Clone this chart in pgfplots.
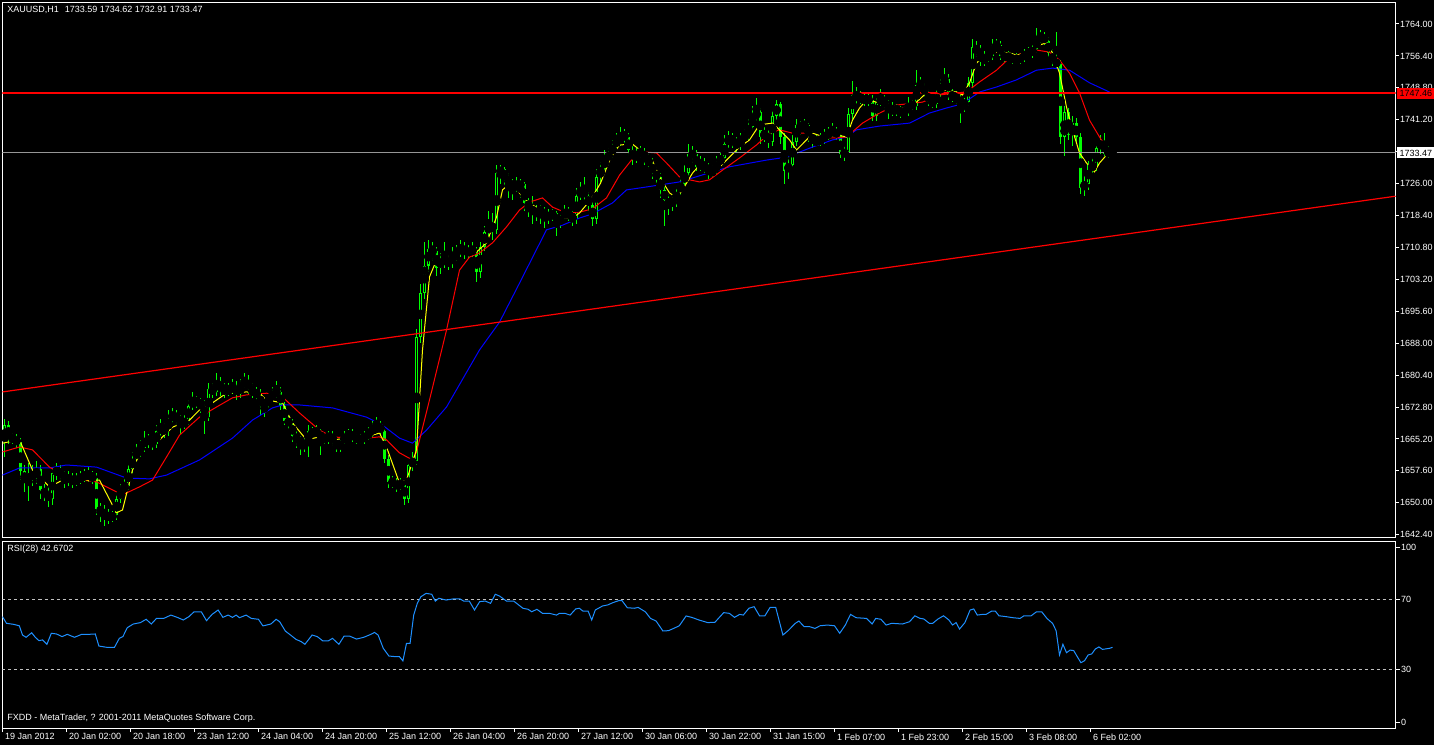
\documentclass[border=0pt]{standalone}
\usepackage{fontspec}
\setmainfont{Liberation Sans}
\usepackage{pgfplots}
\usepackage{pgfplotstable}
\pgfplotsset{compat=1.18}
\definecolor{mtlime}{RGB}{0,255,0}
\definecolor{mtyellow}{RGB}{255,255,0}
\definecolor{mtred}{RGB}{255,0,0}
\definecolor{mtblue}{RGB}{0,0,255}
\definecolor{rsiblue}{RGB}{30,144,255}
\definecolor{bidgray}{RGB}{150,150,150}
\definecolor{lvlgray}{RGB}{192,192,192}
\newcommand\mtfont{\fontsize{4.5pt}{5.4pt}\selectfont}

\pgfplotstableread{
i o h l c
0 1664.5 1670.0 1661.0 1668.5
1 1668.5 1669.5 1664.0 1665.5
2 1665.5 1667.0 1664.0 1665.0
3 1665.0 1666.5 1663.0 1664.5
4 1664.5 1665.5 1655.5 1657.5
5 1657.5 1659.0 1652.5 1655.0
6 1655.0 1659.5 1650.5 1657.0
7 1657.0 1659.0 1654.0 1656.0
8 1656.0 1660.0 1654.5 1658.0
9 1658.0 1659.0 1651.0 1653.0
10 1653.0 1654.5 1650.5 1652.0
11 1652.0 1654.0 1649.0 1651.0
12 1651.0 1658.5 1649.5 1657.0
13 1657.0 1659.5 1655.5 1658.0
14 1658.0 1659.0 1655.0 1656.5
15 1656.5 1657.5 1653.5 1655.5
16 1655.5 1657.5 1654.0 1656.0
17 1656.0 1657.0 1653.5 1655.0
18 1655.0 1657.0 1654.0 1655.5
19 1655.5 1657.5 1654.5 1656.0
20 1656.0 1658.0 1655.0 1656.5
21 1656.5 1658.5 1655.0 1656.5
22 1656.5 1657.5 1654.5 1656.0
23 1656.0 1657.0 1647.0 1648.5
24 1648.5 1650.0 1645.5 1648.0
25 1648.0 1649.5 1644.5 1647.0
26 1647.0 1648.5 1645.0 1646.5
27 1646.5 1648.0 1645.5 1647.0
28 1647.0 1652.5 1646.0 1651.0
29 1651.0 1654.5 1650.0 1653.0
30 1653.0 1656.0 1652.0 1654.0
31 1654.0 1659.5 1653.0 1658.0
32 1658.0 1662.0 1657.0 1660.5
33 1660.5 1664.0 1659.5 1662.5
34 1662.5 1665.0 1661.0 1663.0
35 1663.0 1667.0 1662.0 1665.5
36 1665.5 1666.5 1663.0 1664.5
37 1664.5 1666.0 1662.5 1664.0
38 1664.0 1668.5 1663.0 1667.0
39 1667.0 1670.0 1666.0 1668.0
40 1668.0 1669.0 1665.5 1667.0
41 1667.0 1672.0 1666.0 1670.0
42 1670.0 1672.5 1669.0 1671.0
43 1671.0 1672.0 1668.5 1670.0
44 1670.0 1671.0 1666.5 1668.5
45 1668.5 1671.0 1667.5 1669.5
46 1669.5 1674.5 1668.5 1673.0
47 1673.0 1676.5 1672.0 1674.5
48 1674.5 1675.5 1672.5 1674.0
49 1674.0 1675.0 1671.5 1673.5
50 1673.5 1674.5 1666.5 1670.5
51 1670.5 1678.5 1669.5 1677.0
52 1677.0 1678.5 1675.0 1676.5
53 1676.5 1681.0 1675.5 1679.0
54 1679.0 1680.0 1675.5 1677.0
55 1677.0 1678.5 1675.0 1676.5
56 1676.5 1678.5 1675.5 1677.0
57 1677.0 1679.5 1676.0 1677.5
58 1677.5 1679.0 1674.5 1676.0
59 1676.0 1679.5 1675.0 1678.0
60 1678.0 1681.0 1677.0 1679.0
61 1679.0 1680.5 1676.0 1677.0
62 1677.0 1678.5 1675.0 1676.0
63 1676.0 1677.5 1674.5 1676.0
64 1676.0 1677.0 1671.0 1673.0
65 1673.0 1674.5 1670.5 1673.5
66 1673.5 1676.0 1672.5 1675.0
67 1675.0 1677.5 1674.0 1676.0
68 1676.0 1679.0 1675.0 1676.5
69 1676.5 1677.5 1672.0 1673.0
70 1673.0 1674.0 1668.5 1669.5
71 1669.5 1671.0 1667.5 1669.0
72 1669.0 1670.0 1664.5 1666.0
73 1666.0 1667.5 1663.0 1665.0
74 1665.0 1666.0 1661.5 1663.5
75 1663.5 1665.5 1662.0 1664.5
76 1664.5 1668.5 1661.0 1667.0
77 1667.0 1668.0 1665.5 1666.5
78 1666.5 1668.5 1665.5 1667.0
79 1667.0 1667.5 1661.5 1665.0
80 1665.0 1666.5 1664.0 1665.5
81 1665.5 1667.0 1664.0 1666.0
82 1666.0 1667.0 1663.5 1665.0
83 1665.0 1665.5 1662.0 1663.0
84 1663.0 1665.5 1662.0 1664.5
85 1664.5 1667.0 1663.5 1666.0
86 1666.0 1667.5 1665.0 1666.5
87 1666.5 1667.5 1664.5 1665.5
88 1665.5 1666.5 1664.0 1665.0
89 1665.0 1666.5 1664.0 1665.0
90 1665.0 1667.0 1664.0 1666.0
91 1666.0 1668.0 1665.0 1666.5
92 1666.5 1669.5 1665.5 1668.0
93 1668.0 1670.5 1667.0 1668.5
94 1668.5 1669.5 1666.0 1667.0
95 1667.0 1668.0 1659.5 1660.5
96 1660.5 1661.5 1653.5 1655.0
97 1655.0 1656.5 1653.5 1654.5
98 1654.5 1656.0 1652.5 1654.0
99 1654.0 1656.0 1653.0 1654.5
100 1654.5 1655.5 1649.5 1651.0
101 1651.0 1660.0 1650.0 1659.0
102 1659.0 1662.0 1657.5 1660.0
103 1660.0 1691.5 1659.0 1689.5
104 1689.5 1702.0 1688.0 1700.0
105 1700.0 1712.0 1698.5 1706.5
106 1706.5 1712.5 1705.0 1710.5
107 1710.5 1712.0 1707.5 1710.0
108 1710.0 1711.0 1704.0 1706.0
109 1706.0 1709.5 1704.5 1708.0
110 1708.0 1712.0 1706.0 1707.5
111 1707.5 1709.0 1705.5 1707.0
112 1707.0 1711.0 1706.0 1709.0
113 1709.0 1711.5 1707.5 1710.0
114 1710.0 1712.5 1708.5 1711.0
115 1711.0 1712.0 1708.0 1709.5
116 1709.5 1711.5 1708.0 1710.0
117 1710.0 1712.0 1708.5 1710.0
118 1710.0 1711.0 1702.5 1705.0
119 1705.0 1712.0 1703.5 1711.0
120 1711.0 1716.0 1710.0 1714.5
121 1714.5 1719.5 1713.5 1716.0
122 1716.0 1719.0 1712.5 1715.0
123 1715.0 1730.5 1714.0 1728.5
124 1728.5 1730.5 1726.0 1729.5
125 1729.5 1730.0 1725.5 1727.0
126 1727.0 1728.5 1722.5 1726.0
127 1726.0 1727.0 1722.0 1725.5
128 1725.5 1727.5 1724.0 1725.5
129 1725.5 1727.0 1722.5 1726.0
130 1726.0 1726.5 1719.5 1721.5
131 1721.5 1722.5 1718.0 1720.5
132 1720.5 1723.0 1716.5 1718.5
133 1718.5 1721.0 1717.0 1720.0
134 1720.0 1721.0 1716.5 1719.5
135 1719.5 1720.5 1715.5 1718.0
136 1718.0 1720.0 1716.5 1718.5
137 1718.5 1720.0 1717.0 1719.0
138 1719.0 1719.5 1713.5 1716.5
139 1716.5 1719.0 1715.5 1718.0
140 1718.0 1721.0 1717.0 1719.5
141 1719.5 1720.5 1717.0 1718.5
142 1718.5 1719.5 1716.0 1717.5
143 1717.5 1725.0 1716.5 1723.0
144 1723.0 1726.5 1722.0 1724.5
145 1724.5 1727.5 1722.0 1723.0
146 1723.0 1724.0 1719.5 1721.0
147 1721.0 1722.0 1716.0 1717.5
148 1717.5 1729.5 1716.5 1727.5
149 1727.5 1731.5 1726.5 1729.5
150 1729.5 1734.0 1728.5 1732.0
151 1732.0 1734.5 1730.5 1733.0
152 1733.0 1736.5 1732.0 1735.0
153 1735.0 1738.0 1734.0 1736.5
154 1736.5 1739.5 1735.0 1738.0
155 1738.0 1739.0 1735.5 1737.0
156 1737.0 1738.0 1732.5 1734.0
157 1734.0 1735.0 1730.5 1732.0
158 1732.0 1734.5 1731.0 1733.0
159 1733.0 1735.0 1732.0 1733.5
160 1733.5 1734.5 1730.5 1732.0
161 1732.0 1733.0 1729.5 1731.0
162 1731.0 1732.0 1727.0 1728.5
163 1728.5 1730.0 1726.0 1727.5
164 1727.5 1728.5 1722.5 1724.5
165 1724.5 1725.5 1716.0 1722.0
166 1722.0 1723.5 1718.5 1721.0
167 1721.0 1723.5 1719.5 1722.0
168 1722.0 1725.5 1720.5 1724.0
169 1724.0 1727.5 1723.0 1726.0
170 1726.0 1730.5 1725.0 1728.5
171 1728.5 1735.5 1727.5 1733.0
172 1733.0 1735.0 1731.0 1733.0
173 1733.0 1734.0 1729.0 1730.0
174 1730.0 1732.5 1729.0 1730.5
175 1730.5 1732.0 1728.5 1730.0
176 1730.0 1731.0 1727.0 1728.5
177 1728.5 1730.5 1727.5 1729.0
178 1729.0 1732.5 1728.0 1731.0
179 1731.0 1733.5 1730.0 1732.0
180 1732.0 1737.5 1731.0 1735.5
181 1735.5 1738.5 1734.5 1737.0
182 1737.0 1738.0 1734.5 1736.0
183 1736.0 1737.0 1733.5 1735.0
184 1735.0 1738.0 1734.0 1736.5
185 1736.5 1739.0 1735.5 1737.5
186 1737.5 1741.5 1736.5 1739.5
187 1739.5 1744.5 1738.5 1742.0
188 1742.0 1746.5 1741.0 1743.0
189 1743.0 1744.0 1735.5 1737.0
190 1737.0 1739.5 1736.0 1738.0
191 1738.0 1739.0 1734.5 1736.0
192 1736.0 1743.5 1735.0 1742.0
193 1742.0 1746.0 1741.0 1745.0
194 1745.0 1745.5 1735.5 1737.0
195 1737.0 1738.0 1726.0 1729.0
196 1729.0 1732.5 1727.0 1730.5
197 1730.5 1737.5 1729.5 1736.0
198 1736.0 1741.5 1735.0 1740.0
199 1740.0 1741.0 1737.5 1739.5
200 1739.5 1741.5 1738.5 1740.0
201 1740.0 1740.5 1736.0 1737.5
202 1737.5 1738.5 1734.5 1736.0
203 1736.0 1737.5 1735.0 1736.0
204 1736.0 1738.0 1735.0 1736.5
205 1736.5 1739.0 1735.5 1737.5
206 1737.5 1739.5 1736.5 1738.0
207 1738.0 1740.5 1737.0 1738.5
208 1738.5 1739.5 1736.5 1737.5
209 1737.5 1738.0 1732.0 1733.0
210 1733.0 1735.0 1731.5 1733.5
211 1733.5 1744.0 1733.0 1742.5
212 1742.5 1750.5 1741.5 1747.0
213 1747.0 1749.0 1745.0 1746.5
214 1746.5 1748.0 1745.0 1746.0
215 1746.0 1747.5 1744.5 1746.0
216 1746.0 1747.5 1744.5 1746.0
217 1746.0 1747.0 1741.0 1742.0
218 1742.0 1746.5 1741.0 1745.5
219 1745.5 1748.5 1744.5 1746.0
220 1746.0 1747.0 1743.5 1745.0
221 1745.0 1746.0 1741.5 1743.0
222 1743.0 1745.5 1742.0 1744.0
223 1744.0 1745.0 1742.0 1743.5
224 1743.5 1744.5 1741.5 1743.0
225 1743.0 1744.5 1742.0 1743.0
226 1743.0 1746.5 1742.0 1745.0
227 1745.0 1746.0 1743.5 1744.5
228 1744.5 1753.0 1743.5 1749.5
229 1749.5 1751.5 1748.0 1749.0
230 1749.0 1750.0 1746.5 1747.5
231 1747.5 1748.5 1744.5 1745.5
232 1745.5 1746.5 1744.0 1745.0
233 1745.0 1748.5 1744.0 1747.5
234 1747.5 1751.0 1746.5 1749.5
235 1749.5 1753.5 1748.5 1751.0
236 1751.0 1752.0 1746.0 1747.0
237 1747.0 1748.5 1745.5 1746.5
238 1746.5 1748.0 1745.0 1746.0
239 1746.0 1747.0 1740.5 1744.5
240 1744.5 1746.5 1743.0 1745.5
241 1745.5 1751.5 1744.5 1750.0
242 1750.0 1760.5 1749.0 1758.5
243 1758.5 1760.0 1756.0 1757.0
244 1757.0 1759.0 1754.0 1755.0
245 1755.0 1757.5 1754.0 1756.0
246 1756.0 1758.0 1755.0 1756.5
247 1756.5 1760.5 1755.5 1759.0
248 1759.0 1760.5 1757.5 1759.0
249 1759.0 1760.0 1755.5 1756.5
250 1756.5 1757.5 1755.0 1756.0
251 1756.0 1757.5 1755.0 1756.0
252 1756.0 1757.0 1754.5 1755.5
253 1755.5 1757.0 1754.5 1755.5
254 1755.5 1757.0 1754.5 1756.0
255 1756.0 1758.0 1755.0 1757.0
256 1757.0 1758.5 1756.0 1757.0
257 1757.0 1759.0 1756.0 1758.0
258 1758.0 1763.0 1757.0 1760.5
259 1760.5 1762.5 1759.5 1761.0
260 1761.0 1762.0 1759.0 1760.0
261 1760.0 1761.0 1756.0 1757.0
262 1757.0 1758.0 1754.0 1755.0
263 1755.0 1762.0 1753.5 1754.5
264 1754.5 1755.5 1735.5 1737.0
265 1737.0 1744.5 1732.5 1743.0
266 1743.0 1744.0 1736.5 1737.5
267 1737.5 1742.0 1735.0 1740.5
268 1740.5 1741.5 1735.5 1737.0
269 1737.0 1738.0 1723.5 1725.0
270 1725.0 1728.0 1723.0 1726.0
271 1726.0 1731.5 1724.5 1730.5
272 1730.5 1732.0 1728.0 1730.0
273 1730.0 1735.5 1729.0 1734.5
274 1734.5 1737.5 1733.0 1736.0
275 1736.0 1738.0 1732.5 1733.0
276 1733.0 1735.0 1732.0 1733.6
277 1733.59 1734.62 1732.91 1733.47
}\ohlc

\begin{document}
\begin{tikzpicture}[x=1pt,y=1pt]
\useasboundingbox (0,0) rectangle (717,372.5);
\fill[black] (0,0) rectangle (717,372.5);

% ---------------- main price window ----------------
\begin{axis}[
  at={(1.25pt,104pt)}, anchor=south west, scale only axis,
  width=696.5pt, height=267pt,
  xmin=-0.5, xmax=347.75, ymin=1641.86, ymax=1769.0,
  axis line style={white, line width=0.5pt},
  xtick=\empty,
  ytick={1642.4,1650,1657.6,1665.2,1672.8,1680.4,1688,1695.6,1703.2,1710.8,1718.4,1726,1733.6,1741.2,1748.8,1756.4,1764},
  ytick pos=right, yticklabel pos=right,
  tick align=outside, major tick length=1.5pt,
  tick style={white, line width=0.5pt},
  yticklabel style={font=\mtfont, text=white, anchor=west, inner sep=0.6pt},
  /pgf/number format/fixed, /pgf/number format/fixed zerofill,
  /pgf/number format/precision=2, /pgf/number format/1000 sep={},
  /pgf/number format/assume math mode=true,
]
% wicks
\addplot[only marks, mark=none, forget plot,
  error bars/.cd, y dir=both, y explicit, error mark=none,
  error bar style={mtlime, line width=0.5pt}]
  table[x=i, y expr={(\thisrow{h}+\thisrow{l})/2}, y error expr={(\thisrow{h}-\thisrow{l})/2}] {\ohlc};
% bodies (solid lime)
\addplot[only marks, mark=none, forget plot,
  error bars/.cd, y dir=both, y explicit, error mark=none,
  error bar style={mtlime, line width=1.5pt}]
  table[x=i, y expr={(\thisrow{o}+\thisrow{c})/2}, y error expr={max(abs(\thisrow{c}-\thisrow{o})/2,0.12)}] {\ohlc};
% bull candle interior (black, hollow body)
\addplot[only marks, mark=none, forget plot,
  restrict expr to domain={\thisrow{c}-\thisrow{o}}{0.6:1000},
  error bars/.cd, y dir=both, y explicit, error mark=none,
  error bar style={black, line width=0.5pt}]
  table[x=i, y expr={(\thisrow{o}+\thisrow{c})/2}, y error expr={abs(\thisrow{c}-\thisrow{o})/2-0.24}] {\ohlc};

% moving averages
\addplot[mtblue, line width=0.5pt] coordinates {
(-0.5,1656.6) (3.75,1658.3) (11.25,1658.3) (15.5,1659.0) (23,1658.5) (30.5,1655.9) (36.25,1655.7) (40.5,1656.6) (48.75,1660.2) (57,1665.4) (62,1669.7) (67,1672.6) (69.5,1673.3) (73.75,1673.3) (82,1672.6) (90.5,1670.4) (94.5,1668.5) (98.75,1665.4) (102,1664.2) (105.5,1667.3) (110.5,1672.8) (118.75,1686.4) (123.75,1693.0) (128.75,1702.3) (135.5,1715.0) (139.5,1716.1) (143.75,1717.8) (147,1718.8) (152,1721.4) (155.5,1724.5) (160.5,1725.2) (168.75,1726.4) (177,1728.8) (181.25,1730.0) (190.5,1731.6) (195.5,1732.3) (198.75,1733.5) (202,1734.7) (207,1736.4) (210.5,1737.1) (213,1738.8) (218.75,1739.7) (226.25,1740.4) (231.25,1742.8) (235.5,1744.0) (239.5,1745.0) (243.75,1747.8) (248,1749.0) (253,1750.7) (258,1753.0) (262,1753.5) (266.25,1753.0) (271.25,1750.0) (276.25,1747.8)};
\addplot[mtred, line width=0.5pt] coordinates {
(-0.5,1662.1) (3.75,1663.3) (7,1662.6) (11.25,1658.5) (15.5,1656.1) (19.5,1655.4) (23,1655.0) (25.5,1653.8) (29.5,1651.9) (33.75,1653.8) (37,1655.4) (40.5,1660.9) (43.75,1666.1) (48.75,1670.4) (53,1672.8) (57,1675.0) (60.5,1675.7) (65.5,1676.1) (69.5,1675.2) (73.75,1671.4) (78.75,1667.3) (82,1665.7) (86.25,1665.4) (90.5,1665.4) (93.75,1665.7) (95.5,1665.0) (98.75,1661.9) (102,1660.2) (103,1662.1) (106.25,1674.5) (110.5,1691.1) (113.75,1705.4) (116.25,1708.5) (118.75,1709.5) (122,1711.9) (125.5,1715.7) (128.75,1719.7) (131.25,1721.6) (134.5,1722.6) (137,1720.4) (140.5,1719.0) (143.75,1719.2) (147,1720.0) (150.5,1722.6) (153.75,1728.0) (157,1731.9) (160.5,1733.5) (163,1733.3) (165.5,1730.9) (168.75,1727.6) (171.25,1726.9) (173.75,1726.4) (176.25,1726.9) (179.5,1729.2) (183.75,1732.1) (188,1735.2) (191.25,1738.0) (193.75,1738.8) (197,1738.0) (200.5,1738.0) (203.75,1736.9) (208,1736.9) (210.5,1737.1) (214.5,1740.4) (218.75,1742.8) (223,1744.7) (229.5,1745.4) (233.75,1747.1) (238,1747.6) (240.5,1747.8) (243.75,1750.2) (248,1753.0) (251.25,1755.9) (254.5,1757.1) (258,1757.8) (261.25,1757.3) (263.75,1755.4) (266.25,1752.3) (268.75,1747.6) (271.25,1741.1) (273.75,1737.1) (275.5,1734.5) (277,1733.3)};
\addplot[mtyellow, line width=0.5pt] coordinates {
(-0.5,1664.2) (3.75,1665.0) (7,1657.8) (11.25,1653.8) (14.5,1655.4) (18,1655.4) (23.75,1655.4) (28,1647.6) (29.5,1648.3) (32,1657.8) (34.5,1663.3) (38.75,1665.0) (42,1668.0) (46.25,1669.7) (48.75,1672.1) (52,1673.8) (55.5,1676.1) (60.5,1676.4) (63.75,1676.1) (65.5,1674.5) (69.5,1673.8) (72,1669.0) (75.5,1665.0) (78.75,1665.7) (82,1665.0) (86.25,1665.4) (90.5,1665.7) (93.75,1666.6) (95.5,1663.3) (98.75,1654.7) (100.5,1655.4) (103,1662.6) (104.5,1686.4) (106.25,1703.8) (108,1707.8) (110.5,1708.3) (114.5,1710.2) (118,1709.7) (120.5,1711.9) (123,1718.0) (124.5,1724.5) (126.75,1726.4) (129.5,1722.8) (132,1720.9) (135.5,1719.0) (138.75,1718.0) (142,1717.8) (143.75,1719.0) (146.5,1722.1) (149,1726.1) (151.5,1732.1) (153.75,1735.2) (157,1735.4) (159.5,1733.5) (162,1731.4) (163.75,1727.6) (166.25,1723.8) (168,1722.6) (169.5,1724.5) (172,1728.5) (173.75,1730.4) (176.25,1729.7) (178,1729.2) (180.5,1731.6) (183.75,1734.7) (186.25,1736.4) (188.75,1740.0) (192,1740.4) (193.75,1738.8) (196.25,1736.4) (198,1734.0) (200.5,1736.4) (202,1738.0) (205.5,1736.9) (208,1737.6) (210.5,1737.1) (212,1741.1) (213.75,1744.0) (215.5,1745.9) (218,1745.4) (220.5,1744.7) (223,1744.0) (225.5,1744.0) (228,1745.4) (230.5,1747.6) (233,1747.6) (235.5,1748.3) (238,1747.8) (239.5,1747.1) (241.25,1750.0) (243,1754.7) (244.5,1756.1) (248,1757.3) (251.25,1757.1) (253,1756.6) (256.25,1757.3) (258.75,1759.0) (260.5,1759.5) (262,1757.1) (263.75,1752.3) (265.5,1744.2) (267,1738.8) (268.75,1733.3) (270.5,1730.9) (272.5,1728.8) (273.75,1730.9) (275.5,1732.8) (277,1733.3)};

% objects: trend line, horizontal level, bid line
\addplot[mtred, line width=0.6pt] coordinates {(-0.5,1676.4) (347.75,1723.0)};
\addplot[draw=mtred, line width=1pt] coordinates {(-0.5,1747.46) (347.75,1747.46)};
\addplot[bidgray, line width=0.5pt] coordinates {(-0.5,1733.47) (347.75,1733.47)};
\end{axis}

% ---------------- RSI window ----------------
\begin{axis}[
  at={(1.25pt,8.5pt)}, anchor=south west, scale only axis,
  width=696.5pt, height=93.5pt,
  xmin=-0.5, xmax=347.75, ymin=-3.43, ymax=103.43,
  axis line style={white, line width=0.5pt},
  ytick={0,30,70,100}, yticklabels={0,30,70,100},
  ytick pos=right, yticklabel pos=right,
  xtick={-0.5,15.5,31.5,47.5,63.5,79.5,95.5,111.5,127.5,143.5,159.5,175.5,191.5,207.5,223.5,239.5,255.5,271.5},
  xticklabels={19 Jan 2012,20 Jan 02:00,20 Jan 18:00,23 Jan 12:00,24 Jan 04:00,24 Jan 20:00,25 Jan 12:00,26 Jan 04:00,26 Jan 20:00,27 Jan 12:00,30 Jan 06:00,30 Jan 22:00,31 Jan 15:00,1 Feb 07:00,1 Feb 23:00,2 Feb 15:00,3 Feb 08:00,6 Feb 02:00},
  xtick pos=bottom,
  tick align=outside, major tick length=2pt,
  tick style={white, line width=0.5pt},
  yticklabel style={font=\mtfont, text=white, anchor=west, inner sep=0.6pt},
  xticklabel style={font=\mtfont, text=white, anchor=north west, inner sep=0.6pt, xshift=0.5pt},
]
\addplot[lvlgray, line width=0.5pt, dash pattern=on 1.5pt off 1.5pt] coordinates {(-0.5,70) (347.75,70)};
\addplot[lvlgray, line width=0.5pt, dash pattern=on 1.5pt off 1.5pt] coordinates {(-0.5,30) (347.75,30)};
\addplot[rsiblue, line width=0.5pt] coordinates {
(-0.5,60.2) (0.5,56.4) (2.3,55.8) (3.7,55.0) (4.5,49.7) (5.4,48.4) (6.8,51.0) (7.7,48.4) (8.6,46.5) (9.5,46.9) (10.6,44.4) (11.7,50.7) (13.0,50.3) (14.4,48.8) (15.7,50.1) (17.5,48.4) (19.3,50.1) (21.1,50.1) (22.7,50.3) (23.6,43.4) (25.5,42.7) (27.5,42.7) (28.7,47.8) (29.6,48.8) (30.7,53.9) (32.2,56.0) (34.0,56.8) (35.4,58.7) (36.7,56.0) (38.0,59.2) (39.8,59.2) (41.6,61.1) (43.4,59.6) (44.7,58.3) (46.1,60.2) (47.4,63.0) (49.2,63.0) (50.5,57.9) (51.9,61.5) (53.4,64.0) (54.6,59.8) (55.9,61.1) (57.0,59.8) (57.9,61.1) (58.75,59.6) (60.4,61.1) (61.7,59.2) (63.5,58.7) (64.6,54.9) (66.6,56.0) (67.9,58.7) (68.8,57.3) (70.2,52.0) (71.5,49.7) (72.9,47.2) (74.2,45.9) (75.1,44.4) (76.9,49.7) (78.2,48.8) (79.6,46.3) (80.9,46.3) (82.0,47.8) (83.6,44.4) (84.9,49.1) (86.25,49.1) (88.0,47.4) (89.8,48.4) (91.6,50.1) (92.5,51.2) (93.4,49.7) (94.7,42.1) (96.1,37.7) (97.9,37.3) (98.75,37.3) (99.6,34.9) (100.5,45.0) (101.4,45.0) (102.3,61.1) (103.2,67.8) (104.1,71.6) (105.4,73.5) (106.8,73.0) (107.7,69.1) (108.6,70.7) (110.4,69.7) (112.1,70.3) (113.9,70.3) (114.8,69.1) (116.2,69.1) (117.5,64.0) (118.8,68.8) (120.2,69.1) (121.5,67.8) (122.7,73.0) (123.75,72.0) (125.5,69.1) (127.3,69.1) (129.6,65.0) (130.9,64.4) (131.8,63.0) (133.1,64.4) (134.5,62.1) (136.25,62.1) (138.0,61.1) (138.75,62.1) (140.1,62.1) (141.4,61.1) (142.8,64.6) (143.7,65.0) (144.6,63.4) (145.9,63.4) (146.8,58.3) (147.7,64.0) (149.5,66.3) (150.8,66.9) (152.1,68.2) (153.5,69.3) (154.4,69.3) (155.7,65.3) (157.5,65.0) (158.4,65.5) (160.2,63.0) (161.5,59.2) (162.9,57.7) (164.6,52.0) (166.0,52.2) (167.3,53.5) (168.7,55.0) (170.4,60.6) (171.8,59.8) (173.6,58.3) (175.8,56.8) (177.6,57.0) (179.8,62.5) (181.2,62.1) (182.5,59.8) (183.8,61.5) (184.7,61.1) (186.1,65.0) (187.4,65.9) (188.75,60.7) (190.1,60.7) (191.4,65.5) (192.8,65.5) (194.6,49.7) (195.9,52.2) (197.7,56.4) (198.6,57.7) (199.9,54.5) (201.25,54.5) (202.6,53.5) (203.9,55.0) (205.7,55.4) (207.5,55.0) (208.8,50.7) (210.2,55.4) (211.5,61.5) (212.9,59.6) (215.5,59.2) (216.9,56.0) (217.8,59.2) (219.1,58.7) (220.4,55.4) (221.8,56.4) (224.5,56.0) (226.25,57.3) (227.6,60.7) (228.9,59.2) (229.8,58.9) (231.2,56.4) (232.05,56.4) (233.4,58.9) (234.75,60.7) (236.1,58.3) (237.0,55.4) (237.9,56.8) (238.75,53.1) (240.1,56.8) (241.4,64.0) (242.3,64.6) (243.2,61.1) (244.5,61.5) (245.4,61.5) (246.8,63.4) (247.7,63.4) (248.6,60.7) (250.4,60.2) (252.1,59.6) (253.9,59.2) (254.8,60.6) (256.6,60.6) (258.0,63.0) (259.3,63.0) (260.6,59.2) (262.0,56.4) (262.9,52.2) (263.75,38.3) (264.6,44.4) (265.5,39.6) (266.4,41.1) (267.3,40.8) (268.2,37.3) (269.1,33.9) (270.0,35.0) (270.9,38.3) (271.8,38.9) (272.7,41.7) (273.6,42.9) (274.5,41.5) (276.25,42.1) (277,42.7)};
\end{axis}

% texts and price labels
\node[anchor=west, inner sep=0pt, text=white, font=\mtfont] at (3.5,367.5) {XAUUSD,H1\hspace{3pt}1733.59 1734.62 1732.91 1733.47};
\node[anchor=west, inner sep=0pt, text=white, font=\mtfont] at (3.5,98) {RSI(28) 42.6702};
\node[anchor=west, inner sep=0pt, text=white, font=\mtfont] at (3.5,13.5) {FXDD - MetaTrader, ? 2001-2011 MetaQuotes Software Corp.};
\node[anchor=west, fill=mtred, text=black, font=\mtfont, inner xsep=0.6pt, inner ysep=0pt, minimum height=5.5pt, minimum width=18.5pt] at (698.5,325.75) {1747.46};
\node[anchor=west, fill=white, text=black, font=\mtfont, inner xsep=0.6pt, inner ysep=0pt, minimum height=5.5pt, minimum width=18.5pt] at (698.5,296) {1733.47};
\end{tikzpicture}
\end{document}
